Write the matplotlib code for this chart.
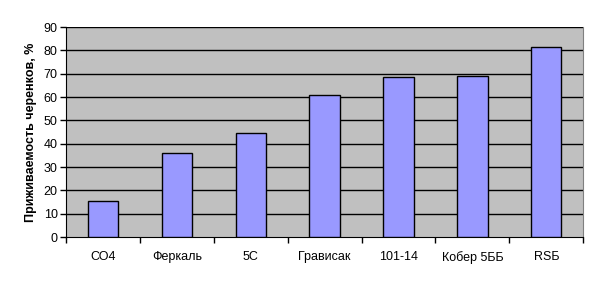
import numpy as np
import matplotlib
matplotlib.use("Agg")
import matplotlib.pyplot as plt

# data
categories = ["СО4", "Феркаль", "5С", "Грависак", "101-14", "Кобер 5ББ", "RSБ"]
values = [15.6, 36.1, 44.7, 61.1, 68.4, 68.9, 81.3]
yticks = [0, 10, 20, 30, 40, 50, 60, 70, 80, 90]

plt.rcParams['font.family'] = ['Liberation Sans', 'DejaVu Sans']

fig = plt.figure(figsize=(6, 2.85), dpi=100)
ax = fig.add_axes([0.11, 0.168, 0.862, 0.737])
ax.set_facecolor("#C0C0C0")

x = np.arange(len(categories))
ax.bar(x, values, width=0.41, color="#9999FF", edgecolor="black", linewidth=1.0, zorder=3)

ax.set_xlim(-0.5, len(categories) - 0.5)
ax.set_ylim(0, 90)
ax.set_yticks(yticks)
ax.set_yticklabels([str(v) for v in yticks], fontsize=9)
for v in yticks[1:]:
    ax.axhline(v, color="black", linewidth=1.0, zorder=1)

# category labels centred, tick marks on boundaries
ax.set_xticks(x)
ax.set_xticklabels(categories, fontsize=9)
ax.tick_params(axis="x", length=0, pad=10)
ax.set_xticks(np.arange(-0.5, len(categories)), minor=True)
ax.tick_params(axis="x", which="minor", length=4, width=1, direction="out", color="black")
ax.tick_params(axis="y", length=4, width=1, direction="out", pad=2)

ax.spines["top"].set_visible(False)
ax.spines["right"].set_color("#808080")
ax.spines["left"].set_color("black")
ax.spines["bottom"].set_color("black")

ax.set_ylabel("Приживаемость черенков, %", fontsize=9, fontweight="bold", labelpad=5)

fig.savefig("out.png", dpi=100, facecolor="white")
